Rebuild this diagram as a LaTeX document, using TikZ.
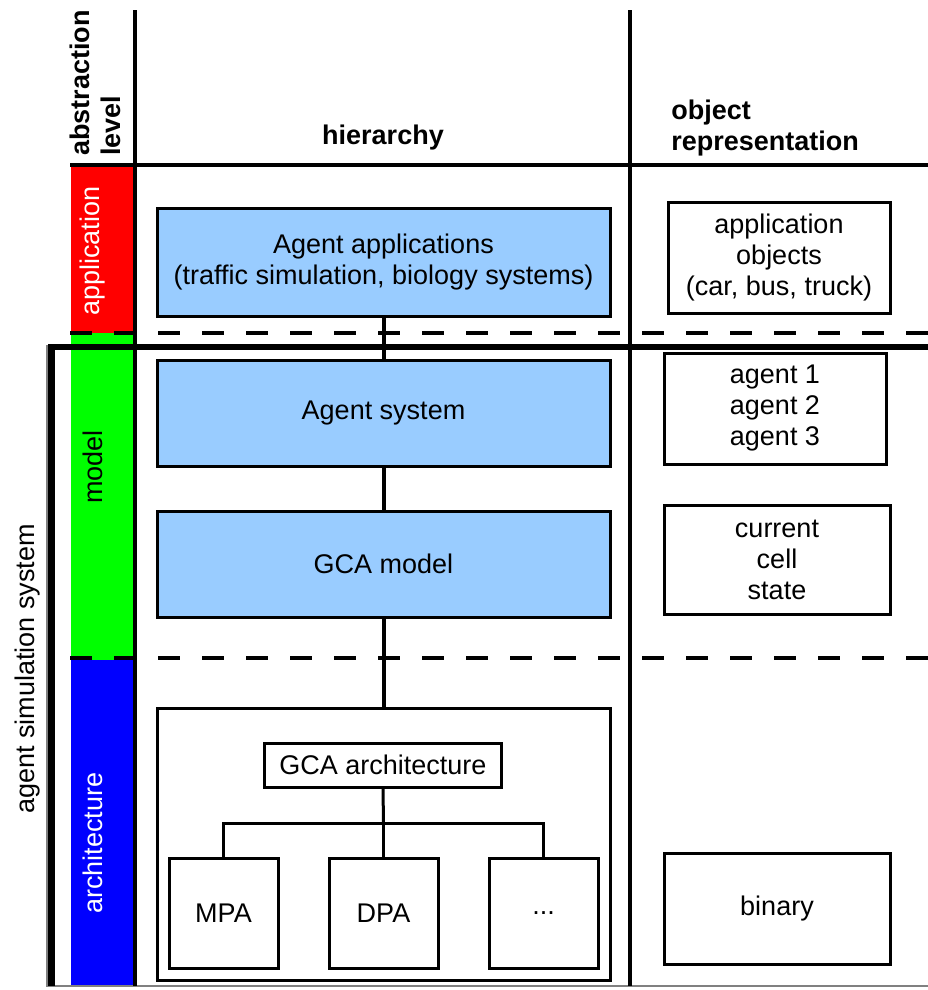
\documentclass[tikz,border=0pt]{standalone}
\usepackage{fontspec}
\setmainfont{Liberation Sans}
\usepackage{xcolor}
\definecolor{boxblue}{RGB}{153,204,255}
\definecolor{appred}{RGB}{255,0,0}
\definecolor{modelgreen}{RGB}{0,255,0}
\definecolor{archblue}{RGB}{0,0,255}

\tikzset{
  txt/.style={inner sep=0pt, font=\fontsize{20.25}{23.25}\selectfont},
  bhead/.style={txt, font=\fontsize{20.25}{23.25}\selectfont\bfseries},
  hbox/.style={txt, draw, line width=2.25pt, fill=boxblue, align=center, minimum width=339.75pt},
  obox/.style={txt, draw, line width=2.25pt, fill=white, align=center},
  gridline/.style={line width=3pt},
  levelsep/.style={line width=2.6pt, dash pattern=on 16.5pt off 16.5pt},
  conn/.style={line width=3pt},
  treeconn/.style={line width=2.25pt},
}

\begin{document}
\begin{tikzpicture}[x=0.75pt,y=0.75pt,yscale=-1,xscale=1]
    \useasboundingbox (0,0) rectangle (928,990);

    %Shape: level bars
    \fill [appred] (71,167) rectangle (133,333);
    \fill [modelgreen] (71,333) rectangle (133,660);
    \fill [archblue] (71,660) rectangle (133,987);

    %Shape: agent simulation system frame
    \draw [gray, line width=0.9pt] (47,345) -- (47,986) -- (928,986);
    \draw [line width=5pt] (51.5,986) -- (51.5,347) -- (928,347);

    %Straight Lines: table grid
    \draw [gridline] (135,10) -- (135,986);
    \draw [gridline] (630,10) -- (630,986);
    \draw [gridline] (70,165) -- (928,165);
    %Dashed Lines: level borders
    \draw [levelsep] (70,333) -- (928,333);
    \draw [levelsep] (70,658) -- (928,658);

    % Text Node
    \node [bhead, rotate=90, align=left, anchor=north west] (abstr) at (70,156) {abstraction\\level};
    \node [bhead] (hier) at (383,138) {hierarchy};
    \node [bhead, align=left, anchor=west] (objrep) at (671,128) {object\\representation};

    % Text Node: levels
    \node [txt, rotate=90, white] (lapp) at (93,251) {application};
    \node [txt, rotate=90] (lmodel) at (93,467) {model};
    \node [txt, rotate=90, white] (larch) at (93,843) {architecture};
    \node [txt, rotate=90] (asys) at (28,669) {agent simulation system};

    %Shape: hierarchy boxes
    \node [hbox, minimum height=81pt] (agapps) at (383.5,262) {Agent applications\\(traffic simulation, biology systems)};
    \node [hbox, minimum height=79.5pt] (agsys) at (383.5,413) {Agent system};
    \node [hbox, minimum height=79.5pt] (gcamodel) at (383.5,564) {GCA model};
    \node [obox, minimum width=339.75pt, minimum height=204pt] (archframe) at (383.5,844) {};
    \node [obox, minimum width=177.75pt, minimum height=33pt] (gcaarch) at (383,765) {GCA architecture};
    \node [obox, minimum width=81.75pt, minimum height=82.5pt] (mpa) at (223.5,913) {MPA};
    \node [obox, minimum width=81.75pt, minimum height=82.5pt] (dpa) at (383.5,913) {DPA};
    \node [obox, minimum width=81.75pt, minimum height=82.5pt] (more) at (543.5,913) {...};

    %Shape: object boxes
    \node [obox, minimum width=166.5pt, minimum height=83.25pt] (appobj) at (779,257.5) {application\\objects\\(car, bus, truck)};
    \node [obox, minimum width=166.5pt, minimum height=83.25pt] (agents) at (775,408.5) {agent 1\\agent 2\\agent 3};
    \node [obox, minimum width=169.5pt, minimum height=81.75pt] (cellstate) at (777,559.5) {current\\cell\\state};
    \node [obox, minimum width=169.5pt, minimum height=83.25pt] (binary) at (777,908.5) {binary};

    %Straight Lines: hierarchy connectors
    \draw [conn] (agapps) -- (agsys);
    \draw [conn] (agsys) -- (gcamodel);
    \draw [conn] (gcamodel) -- (archframe);
    \coordinate (fork) at (383.5,823);
    \draw [treeconn] (gcaarch.south) -- (fork);
    \draw [treeconn] (mpa.north) |- (fork) -| (more.north);
    \draw [treeconn] (fork) -- (dpa.north);

\end{tikzpicture}
\end{document}
